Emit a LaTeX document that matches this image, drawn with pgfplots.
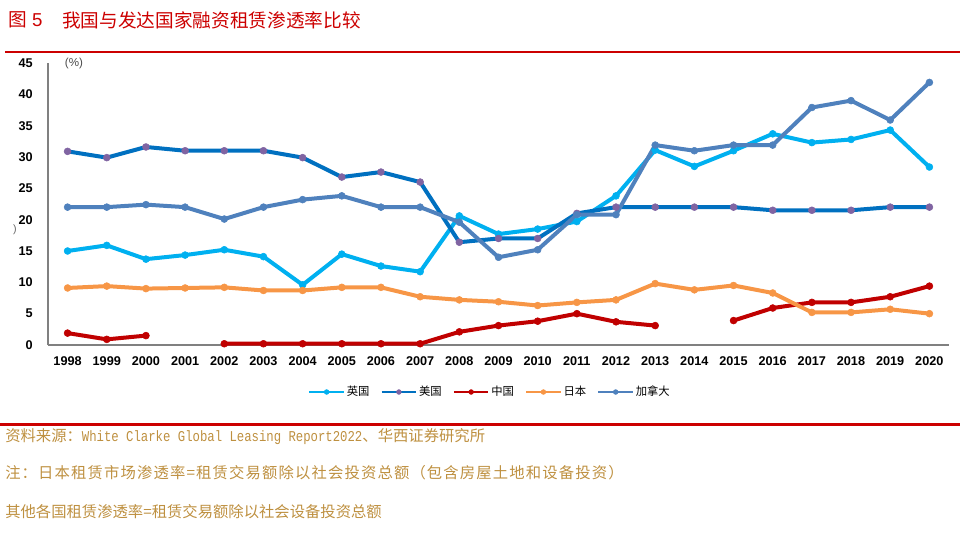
\documentclass[border=0pt]{standalone}
\usepackage{fontspec}
\setmainfont{Liberation Sans}
\newfontfamily\cjk{Noto Sans CJK SC}
\newfontfamily\cjkwide[LetterSpace=7.5]{Noto Sans CJK SC}
\newfontfamily\mono[FakeStretch=0.82]{Liberation Mono}
\usepackage{pgfplots}
\pgfplotsset{compat=1.18}
\definecolor{cUK}{HTML}{00B0F0}
\definecolor{cUS}{HTML}{0070C0}
\definecolor{cUSm}{HTML}{8064A2}
\definecolor{cCN}{HTML}{C00000}
\definecolor{cJP}{HTML}{F79646}
\definecolor{cCA}{HTML}{4F81BD}
\definecolor{titlered}{RGB}{204,0,0}
\definecolor{footgold}{RGB}{190,144,64}
\definecolor{axisgray}{HTML}{808080}
\begin{document}
\begin{tikzpicture}
\useasboundingbox (0,0) rectangle (720pt,405pt);
% title
\node[anchor=west, text=titlered, font=\fontsize{14}{16}\selectfont, inner sep=0] at (6pt,390pt) {{\cjk 图} 5};
\node[anchor=west, text=titlered, font=\fontsize{14}{16}\selectfont, inner sep=0] at (46.5pt,390pt) {\cjk 我国与发达国家融资租赁渗透率比较};
\draw[titlered, line width=1.5pt] (3.75pt,366pt) -- (720pt,366pt);
\draw[titlered, line width=2.3pt] (0pt,86.6pt) -- (720pt,86.6pt);
\begin{axis}[
  at={(36pt,146.25pt)}, anchor=south west, scale only axis,
  width=675.75pt, height=211.5pt,
  xmin=1997.5, xmax=2020.5, ymin=0, ymax=45,
  axis x line=bottom, axis y line=left,
  axis line style={-, draw=axisgray, line width=1pt},
  x axis line style={-}, y axis line style={-},
  xtick={1998,...,2020}, ytick={0,5,...,45},
  major tick length=0pt,
  /pgf/number format/1000 sep={},
  /pgf/number format/assume math mode=true,
  xticklabel style={font=\bfseries\fontsize{9.5}{11}\selectfont, yshift=-5.5pt},
  yticklabel style={font=\bfseries\fontsize{9.5}{11}\selectfont, xshift=-8pt},
  unbounded coords=jump,
  every axis plot/.append style={line width=3pt, line join=round, mark=*, mark size=2.6pt, mark options={line width=0.4pt}},
  legend columns=5,
  legend style={at={(0.49,-0.1667)}, anchor=center, draw=none, fill=none,
    font=\cjk\fontsize{8.5}{10}\selectfont, inner sep=0pt,
    nodes={inner sep=1pt},
    /tikz/every odd column/.append style={column sep=0pt},
    /tikz/every even column/.append style={column sep=7pt}},
  legend image code/.code={\draw[mark repeat=2,mark phase=2,#1,line width=2.2pt,mark size=1.8pt] plot coordinates {(0pt,0pt) (13pt,0pt) (26pt,0pt)};},
]
\addplot[color=cUK] coordinates {(1998,15.0)(1999,15.9)(2000,13.7)(2001,14.35)(2002,15.2)(2003,14.1)(2004,9.6)(2005,14.5)(2006,12.6)(2007,11.7)(2008,20.6)(2009,17.7)(2010,18.5)(2011,19.7)(2012,23.8)(2013,31.1)(2014,28.5)(2015,31.0)(2016,33.7)(2017,32.3)(2018,32.8)(2019,34.3)(2020,28.4)};
\addlegendentry{英国}
\addplot[color=cUS, mark options={line width=0.4pt, draw=cUSm, fill=cUSm}] coordinates {(1998,30.9)(1999,29.9)(2000,31.6)(2001,31.0)(2002,31.0)(2003,31.0)(2004,29.9)(2005,26.8)(2006,27.6)(2007,26.0)(2008,16.4)(2009,17.0)(2010,17.0)(2011,21.0)(2012,22.0)(2013,22.0)(2014,22.0)(2015,22.0)(2016,21.5)(2017,21.5)(2018,21.5)(2019,22.0)(2020,22.0)};
\addlegendentry{美国}
\addplot[color=cCN] coordinates {(1998,1.9)(1999,0.9)(2000,1.5)(2001,nan)(2002,0.2)(2003,0.2)(2004,0.2)(2005,0.2)(2006,0.2)(2007,0.2)(2008,2.1)(2009,3.1)(2010,3.8)(2011,5.0)(2012,3.7)(2013,3.1)(2014,nan)(2015,3.9)(2016,5.9)(2017,6.8)(2018,6.8)(2019,7.7)(2020,9.4)};
\addlegendentry{中国}
\addplot[color=cJP] coordinates {(1998,9.1)(1999,9.4)(2000,9.0)(2001,9.1)(2002,9.2)(2003,8.7)(2004,8.7)(2005,9.2)(2006,9.2)(2007,7.7)(2008,7.2)(2009,6.9)(2010,6.3)(2011,6.8)(2012,7.2)(2013,9.8)(2014,8.8)(2015,9.5)(2016,8.3)(2017,5.2)(2018,5.2)(2019,5.7)(2020,5.0)};
\addlegendentry{日本}
\addplot[color=cCA] coordinates {(1998,22.0)(1999,22.0)(2000,22.4)(2001,22.0)(2002,20.1)(2003,22.0)(2004,23.2)(2005,23.8)(2006,22.0)(2007,22.0)(2008,19.6)(2009,14.0)(2010,15.2)(2011,20.8)(2012,20.8)(2013,31.9)(2014,31.0)(2015,31.9)(2016,31.9)(2017,37.9)(2018,39.0)(2019,35.9)(2020,41.9)};
\addlegendentry{加拿大}
\end{axis}
\node[anchor=center, text=black!70, font=\fontsize{8.7}{10}\selectfont, inner sep=0] at (55.5pt,357pt) {(\%)};
\node[anchor=center, text=black!60, font=\fontsize{8}{10}\selectfont, inner sep=0] at (11.25pt,232.5pt) {)};
% footers
\node[anchor=west, text=footgold, inner sep=0] at (3.75pt,77.25pt) {{\cjk\fontsize{11.5}{13}\selectfont 资料来源：}{\mono\fontsize{11.25}{13}\selectfont White Clarke Global Leasing Report2022}{\cjk\fontsize{11.5}{13}\selectfont 、华西证券研究所}};
\node[anchor=west, text=footgold, inner sep=0, font=\cjkwide\fontsize{11.5}{13}\selectfont] at (3.75pt,50.25pt) {注：日本租赁市场渗透率=租赁交易额除以社会投资总额（包含房屋土地和设备投资）};
\node[anchor=west, text=footgold, inner sep=0, font=\cjk\fontsize{11.5}{13}\selectfont] at (3.75pt,21pt) {其他各国租赁渗透率=租赁交易额除以社会设备投资总额};
\end{tikzpicture}
\end{document}
